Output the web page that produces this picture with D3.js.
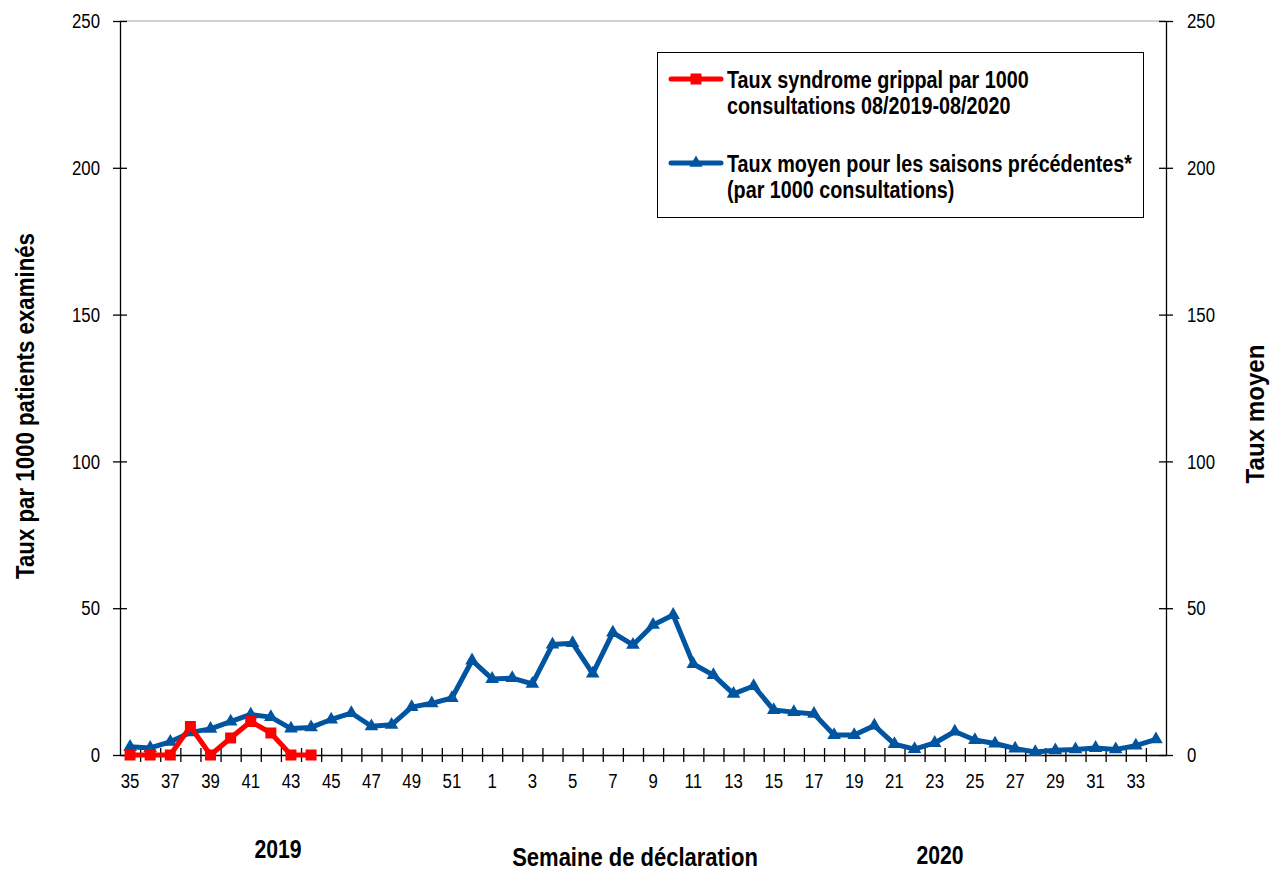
<!DOCTYPE html>
<html>
<head>
<meta charset="utf-8">
<script src="https://cdn.jsdelivr.net/npm/d3@7"></script>
<style>
  body { margin: 0; background: #fff; }
  svg { display: block; font-family: "Liberation Sans", Arial, sans-serif; }
</style>
</head>
<body>
<div id="chart"></div>
<script>
'use strict';

// semaines 35..52 de 2019 puis 1..34 de 2020
const weeks = [35, 36, 37, 38, 39, 40, 41, 42, 43, 44, 45, 46, 47, 48, 49, 50, 51, 52,
  1, 2, 3, 4, 5, 6, 7, 8, 9, 10, 11, 12, 13, 14, 15, 16, 17, 18, 19, 20, 21, 22, 23, 24,
  25, 26, 27, 28, 29, 30, 31, 32, 33, 34]

// taux syndrome grippal 2019-2020 (seulement les premières semaines)
const tauxSaison = [0, 0, 0, 9.7, 0, 5.8, 11.4, 7.5, 0, 0]

// taux moyen des saisons précédentes
const tauxMoyen = [2.8, 2.4, 4.5, 7.7, 8.9, 11.4, 13.8, 12.9, 9.0, 9.4, 12.1, 14.3, 9.8, 10.3,
  16.3, 17.6, 19.4, 32.2, 25.9, 26.2, 24.2, 37.6, 38.1, 27.7, 41.7, 37.5, 44.3, 47.7,
  31.0, 27.2, 20.8, 23.5, 15.3, 14.6, 14.0, 6.8, 6.8, 10.0, 3.7, 2.0, 4.1, 8.0, 5.1,
  3.9, 2.2, 1.0, 1.6, 1.9, 2.4, 1.9, 3.2, 5.3]

const yTicks = [0, 50, 100, 150, 200, 250]

const legendLabels = [
  ['Taux syndrome grippal par 1000', 'consultations 08/2019-08/2020'],
  ['Taux moyen pour les saisons précédentes*', '(par 1000 consultations)']
]

const red = '#ff0000', blue = '#0054a0'

var svgWidth = 1276, svgHeight = 871
var plotLeft = 120, plotRight = 1166, plotTop = 21, plotBottom = 755
var narrow = 0.8   // pas de police étroite installée : on resserre à la main

var svg = d3.select('#chart').append('svg')
  .attr('width', svgWidth)
  .attr('height', svgHeight)

var x = d3.scaleBand()
  .domain(weeks)
  .range([plotLeft, plotRight])
  .padding(0)

var y = d3.scaleLinear()
  .domain([0, 250])
  .range([plotBottom, plotTop])

var xPos = d => x(d) + x.bandwidth() / 2

// bord supérieur gris de la zone de tracé
svg.append('line')
  .attr('x1', plotLeft).attr('x2', plotRight)
  .attr('y1', plotTop).attr('y2', plotTop)
  .attr('stroke', '#a0a0a0')
  .attr('stroke-width', 1)

function styleAxis(g) {
  g.select('.domain').attr('stroke', '#000').attr('stroke-width', 1.3)
  g.selectAll('.tick line').attr('stroke', '#000').attr('stroke-width', 1.3)
  g.selectAll('.tick text')
    .attr('fill', '#000')
    .style('font-size', '21px')
}

// axe gauche
var yLeft = svg.append('g')
  .attr('transform', `translate(${plotLeft},0)`)
  .call(d3.axisLeft(y).tickValues(yTicks).tickSize(7).tickSizeOuter(0).tickPadding(13))
styleAxis(yLeft)
yLeft.selectAll('.tick line').attr('x1', 7)
yLeft.selectAll('.tick text')
  .attr('x', -20 / narrow)
  .attr('transform', `scale(${narrow},1)`)

// axe droit
var yRight = svg.append('g')
  .attr('transform', `translate(${plotRight},0)`)
  .call(d3.axisRight(y).tickValues(yTicks).tickSize(7).tickSizeOuter(0).tickPadding(13))
styleAxis(yRight)
yRight.selectAll('.tick line').attr('x1', -7)
yRight.selectAll('.tick text')
  .attr('x', 21 / narrow)
  .attr('transform', `scale(${narrow},1)`)

// axe des semaines : étiquettes une sur deux
var xAxis = svg.append('g')
  .attr('transform', `translate(0,${plotBottom})`)
  .call(d3.axisBottom(x).tickValues(weeks.filter((d, i) => i % 2 === 0)).tickSize(0).tickPadding(18))
styleAxis(xAxis)
xAxis.selectAll('.tick text').attr('transform', `scale(${narrow},1)`)

// graduations entre les semaines
var xEdge = d3.scaleLinear().domain([0, weeks.length]).range([plotLeft, plotRight])
var xTicksG = svg.append('g')
  .attr('transform', `translate(0,${plotBottom})`)
  .call(d3.axisBottom(xEdge).tickValues(d3.range(1, weeks.length)).tickSize(7).tickFormat(''))
styleAxis(xTicksG)
xTicksG.select('.domain').remove()
xTicksG.selectAll('.tick line').attr('y1', -7)

// séries
var line = d3.line()
  .x((d, i) => xPos(weeks[i]))
  .y(d => y(d))

svg.append('path')
  .datum(tauxMoyen)
  .attr('d', line)
  .attr('fill', 'none')
  .attr('stroke', blue)
  .attr('stroke-width', 5)
  .attr('stroke-linejoin', 'round')

svg.selectAll('.tri')
  .data(tauxMoyen)
  .enter().append('path')
  .attr('class', 'tri')
  .attr('d', d3.symbol(d3.symbolTriangle, 80))
  .attr('transform', (d, i) => `translate(${xPos(weeks[i])},${y(d)})`)
  .attr('fill', blue)

svg.append('path')
  .datum(tauxSaison)
  .attr('d', line)
  .attr('fill', 'none')
  .attr('stroke', red)
  .attr('stroke-width', 5)
  .attr('stroke-linejoin', 'round')

svg.selectAll('.sq')
  .data(tauxSaison)
  .enter().append('path')
  .attr('class', 'sq')
  .attr('d', d3.symbol(d3.symbolSquare, 121))
  .attr('transform', (d, i) => `translate(${xPos(weeks[i])},${y(d)})`)
  .attr('fill', red)

// texte resserré horizontalement
function label(tx, ty, rot, sx, size, str, anchor) {
  return svg.append('text')
    .attr('transform', `translate(${tx},${ty}) rotate(${rot}) scale(${sx},1)`)
    .attr('text-anchor', anchor || 'middle')
    .style('font-size', size + 'px')
    .style('font-weight', 'bold')
    .text(str)
}

// légende
var legend = svg.append('g')
legend.append('rect')
  .attr('x', 657.5).attr('y', 52.5)
  .attr('width', 486).attr('height', 165)
  .attr('fill', '#fff')
  .attr('stroke', '#000')
  .attr('stroke-width', 1)

var legendItems = [
  { color: red, sym: d3.symbolSquare, size: 121, ly: 79, lines: legendLabels[0] },
  { color: blue, sym: d3.symbolTriangle, size: 75, ly: 163, lines: legendLabels[1] }
]

legendItems.forEach(it => {
  legend.append('line')
    .attr('x1', 671).attr('x2', 721)
    .attr('y1', it.ly).attr('y2', it.ly)
    .attr('stroke', it.color).attr('stroke-width', 5)
    .attr('stroke-linecap', 'round')
  legend.append('path')
    .attr('d', d3.symbol(it.sym, it.size))
    .attr('transform', `translate(696,${it.ly})`)
    .attr('fill', it.color)
  it.lines.forEach((s, k) => {
    label(727, it.ly + 9 + k * 25.5, 0, 0.86, 23, s, 'start')
  })
})

// titres des axes
label(34, 406, -90, 0.84, 26.5, 'Taux par 1000 patients examinés')
label(1264, 414, -90, 0.91, 26.5, 'Taux moyen')
label(635, 866, 0, 0.83, 26.5, 'Semaine de déclaration')
label(278, 858, 0, 0.8, 26.5, '2019')
label(940, 864, 0, 0.8, 26.5, '2020')
</script>
</body>
</html>
